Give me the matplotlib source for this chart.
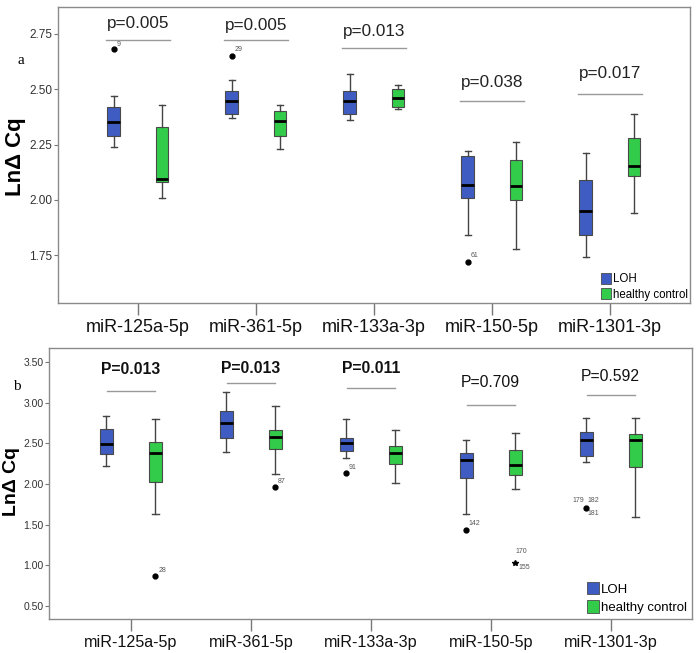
import matplotlib
matplotlib.use("Agg")
import matplotlib.pyplot as plt
from matplotlib.patches import Patch

plt.rcParams['font.family'] = ['Liberation Sans', 'DejaVu Sans']

cats = ["miR-125a-5p", "miR-361-5p", "miR-133a-3p", "miR-150-5p", "miR-1301-3p"]

# panel a: whislo, q1, med, q3, whishi
a_loh = [[2.24, 2.29, 2.35, 2.42, 2.47],
         [2.37, 2.39, 2.447, 2.49, 2.54],
         [2.36, 2.39, 2.447, 2.49, 2.57],
         [1.84, 2.01, 2.066, 2.20, 2.22],
         [1.74, 1.84, 1.95, 2.09, 2.21]]
a_ctl = [[2.01, 2.08, 2.095, 2.33, 2.43],
         [2.23, 2.29, 2.357, 2.40, 2.43],
         [2.41, 2.42, 2.46, 2.50, 2.52],
         [1.78, 2.00, 2.062, 2.18, 2.26],
         [1.94, 2.11, 2.152, 2.28, 2.39]]
a_loh_out = [[2.68], [2.65], [], [1.72], []]
a_ctl_out = [[], [], [], [], []]
a_p = ["p=0.005", "p=0.005", "p=0.013", "p=0.038", "p=0.017"]
a_p_text_y = [2.795, 2.786, 2.76, 2.53, 2.569]
a_p_line_y = [2.723, 2.723, 2.688, 2.446, 2.48]
# (category, group 0=LOH 1=control, value, label, dx px, dy px)
a_out_labels = [(0, 0, 2.68, "9", 5, 5),
                (1, 0, 2.65, "29", 7, 7),
                (3, 0, 1.72, "61", 7, 6)]

# panel b
b_loh = [[2.223, 2.363, 2.486, 2.679, 2.835],
         [2.388, 2.564, 2.753, 2.897, 3.135],
         [2.318, 2.40, 2.502, 2.568, 2.802],
         [1.632, 2.075, 2.293, 2.379, 2.535],
         [2.264, 2.342, 2.539, 2.634, 2.814]]
b_ctl = [[1.632, 2.018, 2.379, 2.51, 2.794],
         [2.121, 2.424, 2.58, 2.663, 2.958],
         [2.01, 2.24, 2.375, 2.461, 2.667],
         [1.94, 2.113, 2.231, 2.412, 2.621],
         [1.595, 2.207, 2.539, 2.613, 2.814]]
b_loh_out = [[], [], [2.133], [1.431], [1.706]]
b_ctl_out = [[0.861], [1.961], [], [1.02], []]
b_p = ["P=0.013", "P=0.013", "P=0.011", "P=0.709", "P=0.592"]
b_p_bold = [True, True, True, False, False]
b_p_text_y = [3.41, 3.42, 3.42, 3.245, 3.328]
b_p_line_y = [3.139, 3.245, 3.184, 2.97, 3.094]
b_out_labels = [(0, 1, 0.861, "28", 7, 6),
                (1, 1, 1.961, "87", 6, 6),
                (2, 0, 2.133, "91", 6, 6),
                (3, 0, 1.431, "142", 8, 7),
                (3, 1, 1.02, "170", 6, 12),
                (3, 1, 1.02, "155", 9, -4),
                (4, 0, 1.706, "179", -8, 7),
                (4, 0, 1.706, "182", 7, 7),
                (4, 0, 1.706, "181", 7, -6)]

BLUE = "#3f5cc2"
GREEN = "#33cc4a"
OFF = 0.205
BW = 0.106


def stats(rows, outs):
    res = []
    for r, o in zip(rows, outs):
        res.append(dict(whislo=r[0], q1=r[1], med=r[2], q3=r[3], whishi=r[4], fliers=o))
    return res


def panel(ax, loh, ctl, loh_out, ctl_out, ylim, yticks, tick_fs, cat_fs):
    xs = range(len(cats))
    kw = dict(widths=BW, capwidths=BW * 0.5, patch_artist=True,
              boxprops=dict(edgecolor="#4a4a4a", linewidth=0.8),
              medianprops=dict(color="black", linewidth=2),
              whiskerprops=dict(color="#444444", linewidth=1),
              capprops=dict(color="#444444", linewidth=1),
              flierprops=dict(marker="o", markerfacecolor="black",
                              markeredgecolor="black", markersize=3.5))
    b1 = ax.bxp(stats(loh, loh_out), positions=[x - OFF for x in xs], **kw)
    b2 = ax.bxp(stats(ctl, ctl_out), positions=[x + OFF for x in xs], **kw)
    for p in b1["boxes"]:
        p.set_facecolor(BLUE)
    for p in b2["boxes"]:
        p.set_facecolor(GREEN)
    ax.set_xlim(-0.68, 4.68)
    ax.set_ylim(*ylim)
    ax.set_yticks(yticks)
    ax.set_yticklabels(["%.2f" % v for v in yticks], fontsize=tick_fs, color="#333333")
    ax.set_xticks(list(xs))
    ax.set_xticklabels(cats, fontsize=cat_fs, color="#111111")
    ax.tick_params(axis="x", length=8.5, width=1, color="#777777", pad=3)
    ax.tick_params(axis="y", length=3, width=0.8, color="#777777", pad=1)
    for s in ax.spines.values():
        s.set_color("#8a8a8a")
        s.set_linewidth(1)
    return b1, b2


fig = plt.figure(figsize=(6.97, 6.53), dpi=100)
ax1 = fig.add_axes([0.0828, 0.536, 0.9072, 0.4528])
ax2 = fig.add_axes([0.0707, 0.0516, 0.9226, 0.415])

panel(ax1, a_loh, a_ctl, a_loh_out, a_ctl_out, (1.534, 2.87), [1.75, 2.00, 2.25, 2.50, 2.75], 8.5, 13)
b1, b2 = panel(ax2, b_loh, b_ctl, b_loh_out, b_ctl_out, (0.333, 3.669),
               [0.5, 1.0, 1.5, 2.0, 2.5, 3.0, 3.5], 7.5, 11.6)
b2["fliers"][3].set_marker("*")
b2["fliers"][3].set_markersize(4)

for i in range(len(cats)):
    ax1.plot([i - 0.27, i + 0.27], [a_p_line_y[i]] * 2, color="#999999", lw=1)
    ax1.text(i, a_p_text_y[i], a_p[i], ha="center", va="center", fontsize=12.3, color="#222222")
    ax2.plot([i - 0.2, i + 0.2], [b_p_line_y[i]] * 2, color="#999999", lw=1)
    ax2.text(i, b_p_text_y[i], b_p[i], ha="center", va="center", fontsize=11.3,
             color="#111111", fontweight="bold" if b_p_bold[i] else "normal")

for ax, labs in ((ax1, a_out_labels), (ax2, b_out_labels)):
    for c, g, v, lab, dx, dy in labs:
        x = c - OFF if g == 0 else c + OFF
        ax.annotate(lab, (x, v), xytext=(dx, dy), textcoords="offset pixels",
                    ha="center", va="center", fontsize=5, color="#555555")

handles = [Patch(facecolor=BLUE, edgecolor="#4a4a4a", linewidth=0.6, label="LOH"),
           Patch(facecolor=GREEN, edgecolor="#4a4a4a", linewidth=0.6, label="healthy control")]
ax1.legend(handles=handles, loc="lower right", frameon=False, fontsize=8.3,
           handlelength=0.9, handleheight=1.1, handletextpad=0.15,
           labelspacing=0.25, borderaxespad=0.1, borderpad=0.1)
ax2.legend(handles=handles, loc="lower right", frameon=False, fontsize=9.5,
           handlelength=0.9, handleheight=1.1, handletextpad=0.15,
           labelspacing=0.35, borderaxespad=0.2, borderpad=0.2)

fig.text(15 / 697, 1 - 157 / 653, "LnΔ Cq", rotation=90, ha="center", va="center",
         fontsize=16, fontweight="bold")
fig.text(12 / 697, 1 - 481 / 653, "LnΔ Cq", rotation=90, ha="center", va="center",
         fontsize=14, fontweight="bold")
fig.text(21 / 697, 1 - 61 / 653, "a", ha="center", va="center", fontsize=11,
         family=["Liberation Serif", "DejaVu Serif"])
fig.text(17 / 697, 1 - 387 / 653, "b", ha="center", va="center", fontsize=11,
         family=["Liberation Serif", "DejaVu Serif"])

fig.savefig("out.png", dpi=100)
